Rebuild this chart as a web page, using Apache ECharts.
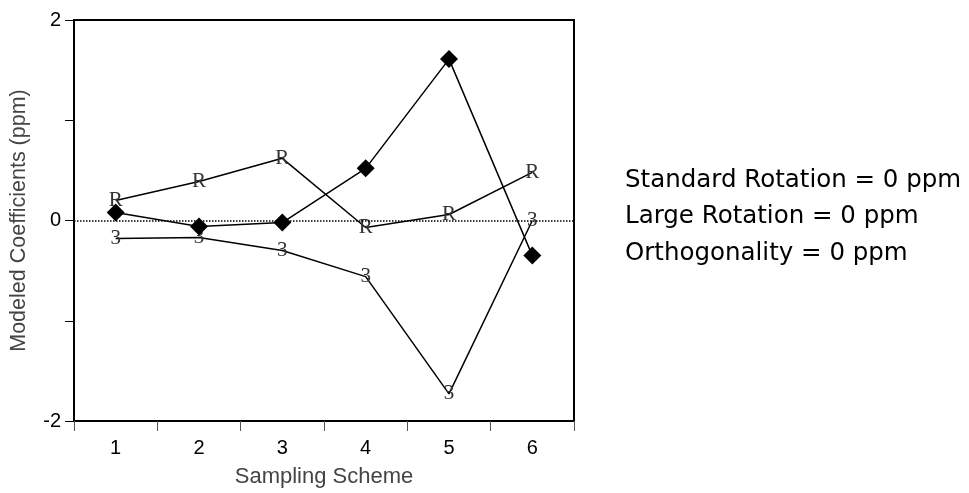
<!DOCTYPE html>
<html>
<head>
<meta charset="utf-8">
<script src="https://cdn.jsdelivr.net/npm/echarts@6/dist/echarts.min.js"></script>
<style>
html,body{margin:0;padding:0;background:#fff;}
#chart{width:969px;height:493px;}
</style>
</head>
<body>
<div id="chart"></div>
<script>
// 取样方案
var schemes = ['1', '2', '3', '4', '5', '6'];
// 三条曲线
var diamondVals = [0.08, -0.06, -0.02, 0.52, 1.61, -0.35];
var rVals = [0.20, 0.39, 0.62, -0.07, 0.06, 0.48];
var threeVals = [-0.18, -0.17, -0.30, -0.56, -1.73, 0.00];
// 右侧说明文字
var notes = ['Standard Rotation = 0 ppm', 'Large Rotation = 0 ppm', 'Orthogonality = 0 ppm'];

var chart = echarts.init(document.getElementById('chart'));

// 字母标记的折线
function letterSeries(name, data, letter){
    return {
        name: name, type: 'line', data: data,
        symbol: 'circle', symbolSize: 1,
        itemStyle: {color: 'rgba(0,0,0,0)'},
        lineStyle: {color: '#000', width: 1.5},
        label: {
            show: true, position: 'inside', formatter: letter,
            fontFamily: 'Liberation Serif', fontSize: 21, color: '#333'
        },
        z: 3
    };
}

chart.setOption({
    animation: false,
    grid: {
        left: 73, right: 395, top: 20, bottom: 71,
        show: true, borderColor: '#000', borderWidth: 2
    },
    xAxis: {
        type: 'category',
        data: schemes,
        boundaryGap: true,
        name: 'Sampling Scheme',
        nameLocation: 'middle',
        nameGap: 45,
        nameTextStyle: {fontFamily: 'Liberation Sans', fontSize: 22, color: '#444'},
        axisLine: {onZero: false, lineStyle: {color: '#000', width: 2}},
        axisTick: {show: true, length: 10, lineStyle: {color: '#555', width: 1}},
        axisLabel: {fontFamily: 'Liberation Sans', fontSize: 20, color: '#000', margin: 17},
        splitLine: {show: false}
    },
    yAxis: {
        type: 'value',
        min: -2, max: 2, interval: 1,
        name: 'Modeled Coefficients (ppm)',
        nameLocation: 'middle',
        nameGap: 44,
        nameTextStyle: {fontFamily: 'Liberation Sans', fontSize: 21.5, color: '#444'},
        axisLine: {show: true, lineStyle: {color: '#000', width: 2}},
        axisTick: {show: true, length: 9, lineStyle: {color: '#000', width: 1}},
        axisLabel: {
            fontFamily: 'Liberation Sans', fontSize: 20, color: '#000', margin: 13,
            formatter: function(v){ return v % 2 === 0 ? String(v) : ''; }
        },
        splitLine: {show: false}
    },
    graphic: notes.map(function(t, i){
        return {
            type: 'text', left: 625, top: 168 + i * 36.5,
            style: {text: t, fontFamily: 'DejaVu Sans', fontSize: 24.5, fill: '#000'}
        };
    }),
    series: [
        {
            name: 'diamond', type: 'line', data: diamondVals,
            symbol: 'diamond', symbolSize: 18,
            itemStyle: {color: '#000'},
            lineStyle: {color: '#000', width: 1.5},
            markLine: {
                silent: true, symbol: 'none',
                label: {show: false},
                lineStyle: {type: 'dotted', color: '#000', width: 1.5},
                data: [{yAxis: 0}]
            },
            z: 4
        },
        letterSeries('R', rVals, 'R'),
        letterSeries('3', threeVals, '3')
    ]
});
</script>
</body>
</html>
